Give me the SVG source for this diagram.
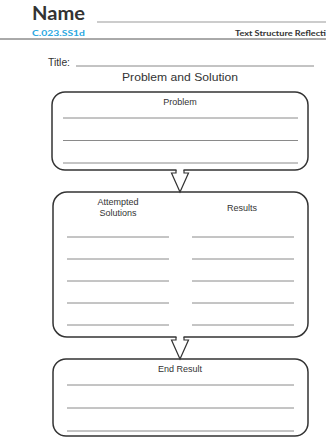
<svg xmlns="http://www.w3.org/2000/svg" width="326" height="444" viewBox="0 0 326 444">
<style>
.box{fill:#fff;stroke:#333;stroke-width:1.5}
.ln{stroke:#8a8a8a;stroke-width:1}
.lbl{font-family:"Liberation Sans",Arial,sans-serif;font-size:9px;fill:#333;text-anchor:middle}
.arr{fill:none;stroke:#333;stroke-width:1.2;stroke-linejoin:miter}
</style>
<rect width="326" height="444" fill="#fff"/>
<g id="header">
<text x="32" y="20" font-family="Lato,'Liberation Sans',sans-serif" font-weight="bold" font-size="18" fill="#333" textLength="53" lengthAdjust="spacingAndGlyphs">Name</text>
<line x1="97" y1="22" x2="326" y2="22" stroke="#999" stroke-width="1"/>
<text x="32" y="36" font-family="Lato,'Liberation Sans',sans-serif" font-weight="bold" font-size="7" fill="#2aa7e1" textLength="53" lengthAdjust="spacingAndGlyphs">C.023.SS1d</text>
<text x="235" y="35.5" font-family="Lato,'Liberation Sans',sans-serif" font-weight="bold" font-size="6.5" fill="#333" textLength="91" lengthAdjust="spacingAndGlyphs">Text Structure Reflecti</text>
<line x1="0" y1="39" x2="326" y2="39" stroke="#555" stroke-width="1"/>
<text x="48" y="66" font-family="'Liberation Sans',Arial,sans-serif" font-size="11" fill="#333" textLength="22" lengthAdjust="spacingAndGlyphs">Title:</text>
<line x1="76" y1="66" x2="314" y2="66" stroke="#888" stroke-width="1"/>
<text x="180" y="81" font-family="'Liberation Sans',Arial,sans-serif" font-size="11" fill="#333" text-anchor="middle" textLength="116" lengthAdjust="spacingAndGlyphs">Problem and Solution</text>
</g>
<g id="problem">
<rect class="box" x="52" y="92" width="256" height="78" rx="13"/>
<text class="lbl" x="180" y="105">Problem</text>
<line class="ln" x1="63" y1="118" x2="298" y2="118"/>
<line class="ln" x1="63" y1="140.5" x2="298" y2="140.5"/>
<line class="ln" x1="63" y1="163" x2="298" y2="163"/>
</g>
<g id="attempted">
<rect class="box" x="53" y="192" width="255" height="145" rx="14"/>
<text class="lbl" x="118" y="205">Attempted</text>
<text class="lbl" x="118" y="215.5">Solutions</text>
<text class="lbl" x="242" y="211">Results</text>
<g class="ln">
<line x1="67" y1="237" x2="169" y2="237"/>
<line x1="67" y1="259" x2="169" y2="259"/>
<line x1="67" y1="281" x2="169" y2="281"/>
<line x1="67" y1="303" x2="169" y2="303"/>
<line x1="67" y1="325" x2="169" y2="325"/>
<line x1="192" y1="237" x2="294" y2="237"/>
<line x1="192" y1="259" x2="294" y2="259"/>
<line x1="192" y1="281" x2="294" y2="281"/>
<line x1="192" y1="303" x2="294" y2="303"/>
<line x1="192" y1="325" x2="294" y2="325"/>
</g>
</g>
<g id="endresult">
<rect class="box" x="53" y="359" width="255" height="77" rx="13"/>
<text class="lbl" x="180" y="372">End Result</text>
<line class="ln" x1="67" y1="385" x2="294" y2="385"/>
<line class="ln" x1="67" y1="408" x2="294" y2="408"/>
<line class="ln" x1="67" y1="431" x2="294" y2="431"/>
</g>
<g id="connectors">
<rect x="176.5" y="168" width="7" height="6" fill="#fff"/>
<polyline class="arr" points="176,170 176,173 171.5,173 180,192 188.5,173 184,173 184,170"/>
<rect x="176.5" y="335" width="7" height="6" fill="#fff"/>
<polyline class="arr" points="176,337 176,340 171.5,340 180,359 188.5,340 184,340 184,337"/>
</g>
</svg>
